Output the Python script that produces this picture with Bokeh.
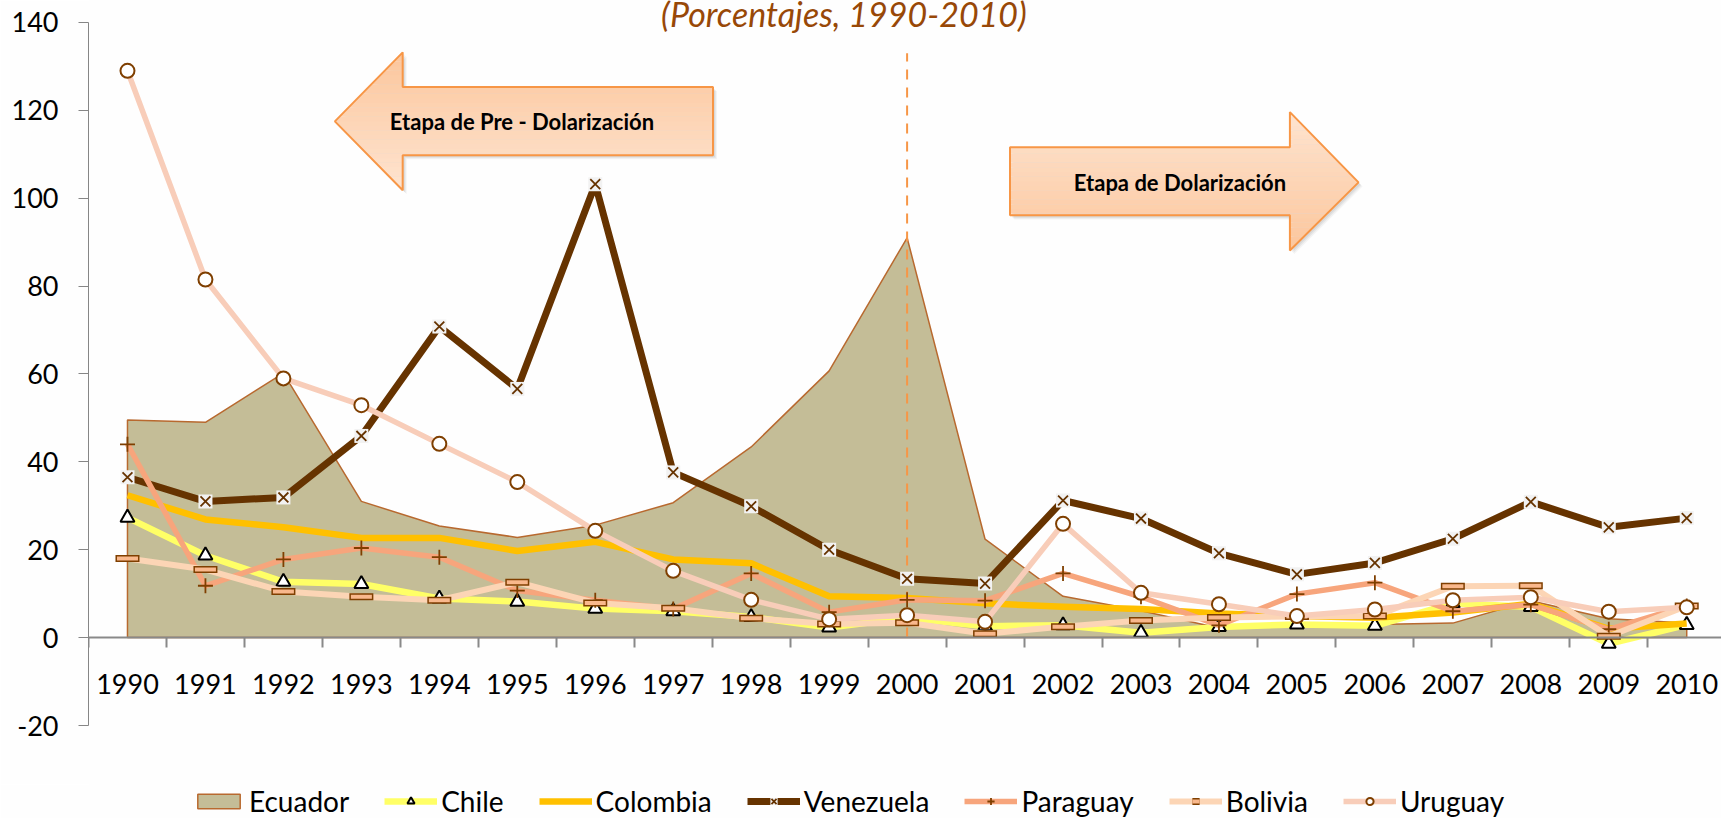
from bokeh.plotting import figure
from bokeh.layouts import column
from bokeh.models import (Range1d, LinearAxis, FixedTicker, Label, Legend, LegendItem)
from bokeh.embed import file_html
from bokeh.resources import INLINE

# ---------------- data ----------------
years = [str(y) for y in range(1990, 2011)]
ecuador = [49.5, 49.0, 60.2, 31.0, 25.4, 22.8, 25.6, 30.7, 43.4, 60.7, 91.0,
           22.4, 9.4, 6.1, 2.2, 3.2, 3.0, 3.3, 8.4, 4.3, 3.3]
chile = [27.3, 18.7, 12.7, 12.2, 8.9, 8.2, 6.6, 6.0, 4.7, 2.3, 4.5,
         2.6, 2.8, 1.1, 2.4, 3.0, 2.7, 7.8, 7.0, -1.4, 2.9]
colombia = [32.4, 26.9, 25.1, 22.7, 22.7, 19.7, 21.8, 17.8, 16.9, 9.4, 9.0,
            7.8, 7.0, 6.5, 5.5, 4.9, 4.5, 5.7, 7.7, 2.0, 3.2]
venezuela = [36.5, 31.0, 31.9, 45.9, 70.8, 56.6, 103.2, 37.6, 29.9, 20.0, 13.4,
             12.3, 31.2, 27.1, 19.2, 14.4, 17.0, 22.5, 30.9, 25.1, 27.2]
paraguay = [44.0, 11.8, 17.8, 20.4, 18.3, 10.7, 8.5, 6.5, 14.6, 5.8, 8.6,
            8.4, 14.6, 9.3, 2.8, 9.9, 12.5, 6.0, 7.5, 1.9, 7.2]
bolivia = [18.0, 15.5, 10.5, 9.3, 8.5, 12.6, 7.9, 6.7, 4.4, 3.1, 3.4,
           0.9, 2.5, 3.9, 4.6, 4.8, 4.9, 11.7, 11.8, 0.3, 7.2]
uruguay = [129.0, 81.5, 59.0, 52.9, 44.1, 35.4, 24.3, 15.2, 8.6, 4.2, 5.1,
           3.6, 25.9, 10.2, 7.6, 4.9, 6.4, 8.5, 9.2, 5.9, 6.9]
y_ticks = [-20, 0, 20, 40, 60, 80, 100, 120, 140]
title_text = "(Porcentajes, 1990-2010)"
pre_text = "Etapa de Pre - Dolarización"
post_text = "Etapa de Dolarización"
dollar_year = "2000"

xs = list(range(len(years)))
FONT = "Lato"
BG = "#FEFEFE"

# frame reaches the top of the canvas; the axis itself stops at 140
p = figure(width=1721, height=784, output_backend="svg", toolbar_location=None,
           x_range=Range1d(-0.5, 20.446), y_range=Range1d(-20, 145.0),
           x_axis_location=None, y_axis_location="left",
           min_border_left=88, min_border_right=0, min_border_top=0, min_border_bottom=59,
           background_fill_color=BG, border_fill_color=BG)
p.outline_line_color = None
p.grid.visible = False

# y axis
yax = p.yaxis[0]
yax.bounds = (y_ticks[0], y_ticks[-1])
yax.ticker = FixedTicker(ticks=y_ticks)
yax.major_label_overrides = {v: ("-%d" % -v if v < 0 else str(v)) for v in y_ticks}
yax.axis_line_color = "#868686"
yax.axis_line_width = 1
yax.major_tick_line_color = "#868686"
yax.major_tick_out = 10
yax.major_tick_in = 0
yax.minor_tick_line_color = None
yax.major_label_text_font = FONT
yax.major_label_text_font_size = "27px"
yax.major_label_text_color = "#000000"
yax.major_label_standoff = 20

# x axis at y = 0 : boundary ticks
bounds = [i - 0.5 for i in range(len(years) + 1)]
xax_t = LinearAxis(fixed_location=0, ticker=FixedTicker(ticks=bounds))
xax_t.major_label_overrides = {b: "" for b in bounds}
xax_t.axis_line_color = "#898989"
xax_t.axis_line_width = 2
xax_t.major_tick_line_color = "#898989"
xax_t.major_tick_line_width = 2
xax_t.major_tick_out = 10
xax_t.major_tick_in = 0
xax_t.minor_tick_line_color = None
xax_t.major_label_standoff = 0
p.add_layout(xax_t, "below")

# x axis labels at centers
xax_l = LinearAxis(fixed_location=0, ticker=FixedTicker(ticks=xs))
xax_l.major_label_overrides = {i: y for i, y in enumerate(years)}
xax_l.axis_line_color = None
xax_l.major_tick_line_color = None
xax_l.minor_tick_line_color = None
xax_l.major_tick_out = 0
xax_l.major_tick_in = 0
xax_l.major_label_standoff = 36
xax_l.major_label_text_font = FONT
xax_l.major_label_text_font_size = "27px"
xax_l.major_label_text_color = "#000000"
p.add_layout(xax_l, "below")

# ---------------- Ecuador area ----------------
area_x = [xs[0]] + xs + [xs[-1]]
area_y = [0] + ecuador + [0]
ECU = dict(fill_color="#C4BD97", line_color="#B8692F", line_width=1.5)
p.patch(area_x, area_y, **ECU)

# ---------------- arrows ----------------
def clip(poly, keep, inter):
    out = []
    n = len(poly)
    for i in range(n):
        a, b = poly[i - 1], poly[i]
        ia, ib = keep(a), keep(b)
        if ib:
            if not ia:
                out.append(inter(a, b))
            out.append(b)
        elif ia:
            out.append(inter(a, b))
    return out

def band(poly, lo, hi):
    def ix(a, b, yv):
        f = (yv - a[1]) / (b[1] - a[1])
        return (a[0] + f * (b[0] - a[0]), yv)
    q_ = clip(poly, lambda p_: p_[1] >= lo, lambda a, b: ix(a, b, lo))
    if not q_:
        return q_
    return clip(q_, lambda p_: p_[1] <= hi, lambda a, b: ix(a, b, hi))

def hexmix(c1, c2, f):
    a = [int(c1[i:i + 2], 16) for i in (1, 3, 5)]
    b = [int(c2[i:i + 2], 16) for i in (1, 3, 5)]
    return "#%02x%02x%02x" % tuple(round(a[k] + (b[k] - a[k]) * f) for k in range(3))

def draw_arrow(poly, c_top, c_bot):
    px = [v[0] for v in poly]
    py = [v[1] for v in poly]
    for k, a in enumerate([0.06, 0.05, 0.04]):
        d = k + 2
        p.patch([v + 0.013 * d for v in px], [v - 0.23 * d for v in py], fill_color="#000000",
                fill_alpha=a, line_color=None)
    lo, hi = min(py), max(py)
    nb = 30
    for k in range(nb):
        y0 = lo + (hi - lo) * k / nb
        y1 = lo + (hi - lo) * (k + 1) / nb + 0.05
        sub = band(poly, y0, y1)
        if len(sub) >= 3:
            f = 1 - (k + 0.5) / nb
            p.patch([v[0] for v in sub], [v[1] for v in sub],
                    fill_color=hexmix(c_top, c_bot, f), line_color=None)
    p.patch(px, py, fill_color=None, line_color="#F79646", line_width=2)

left_arrow = [(2.66, 117.5), (3.53, 133.2), (3.53, 125.3), (7.51, 125.3),
              (7.51, 109.8), (3.53, 109.8), (3.53, 101.8)]
right_arrow = [(11.32, 111.6), (14.91, 111.6), (14.91, 119.6), (15.79, 103.6),
               (14.91, 88.1), (14.91, 96.1), (11.32, 96.1)]
draw_arrow(left_arrow, "#FCC69C", "#FEE4D0")
draw_arrow(right_arrow, "#FEE4D0", "#FCC69C")

p.add_layout(Label(x=5.06, y=117.5, text=pre_text, text_align="center", text_baseline="middle",
                   text_font=FONT, text_font_style="bold", text_font_size="22px",
                   text_color="#000000"))
p.add_layout(Label(x=13.5, y=103.6, text=post_text, text_align="center", text_baseline="middle",
                   text_font=FONT, text_font_style="bold", text_font_size="22px",
                   text_color="#000000"))

# dashed separator at 2000
xd = years.index(dollar_year)
p.segment(x0=[xd], y0=[0], x1=[xd], y1=[133], line_color="#F79646", line_width=2,
          line_dash="10 8")

# ---------------- series styles ----------------
BR = "#7F3F00"
CHI_L = dict(line_color="#FFFF66", line_width=6.5, line_join="round")
CHI_M = dict(marker="triangle", size=14, fill_color="white", line_color="#000000", line_width=2)
COL_L = dict(line_color="#FFC000", line_width=6.5, line_join="round")
VEN_L = dict(line_color="#663300", line_width=7, line_join="round")
VEN_B = dict(marker="square", size=14, fill_color="#F2F2F2", line_color=None)
VEN_M = dict(marker="x", size=14, line_color="#663300", line_width=1.8)
PAR_L = dict(line_color="#F7A57C", line_width=5.5, line_join="round")
PAR_M = dict(marker="cross", size=15, line_color=BR, line_width=1.8)
BOL_L = dict(line_color="#FCD5B5", line_width=6, line_join="round")
BOL_O = dict(marker="dash", size=24, line_color=BR, line_width=7)
BOL_I = dict(marker="dash", size=21, line_color="#F9B88C", line_width=4)
URU_L = dict(line_color="#F8CDB9", line_width=5.5, line_join="round")
URU_M = dict(marker="circle", size=14, fill_color="white", line_color=BR, line_width=2)

p.line(xs, chile, **CHI_L)
p.scatter(xs, chile, **CHI_M)
p.line(xs, colombia, **COL_L)
p.line(xs, venezuela, **VEN_L)
p.scatter(xs, venezuela, **VEN_B)
p.scatter(xs, venezuela, **VEN_M)
p.line(xs, paraguay, **PAR_L)
p.scatter(xs, paraguay, **PAR_M)
p.line(xs, bolivia, **BOL_L)
p.scatter(xs, bolivia, **BOL_O)
p.scatter(xs, bolivia, **BOL_I)
p.line(xs, uruguay, **URU_L)
p.scatter(xs, uruguay, **URU_M)

# ---------------- title (cut at the top edge) ----------------
p.add_layout(Label(x=9.19, y=142.0, text=title_text, text_align="center", text_baseline="alphabetic",
                   text_font=FONT, text_font_style="italic", text_font_size="34px",
                   text_color="#984807"))

# ---------------- legend strip ----------------
q = figure(width=1721, height=34, output_backend="svg", toolbar_location=None,
           x_range=Range1d(0, 1), y_range=Range1d(0, 1),
           x_axis_location=None, y_axis_location=None,
           min_border_left=88, min_border_right=0, min_border_top=0, min_border_bottom=0,
           background_fill_color=BG, border_fill_color=BG)
q.outline_line_color = None
q.grid.visible = False
ox, oy = [50, 51, 51], [50, 50, 51]   # outside the visible range: legend samples only
lr_ecu = [q.patch(ox, oy, **ECU)]
lr_chi = [q.line(ox, oy, **CHI_L), q.scatter(ox, oy, **CHI_M)]
lr_col = [q.line(ox, oy, **COL_L)]
lr_ven = [q.line(ox, oy, **VEN_L), q.scatter(ox, oy, **VEN_B), q.scatter(ox, oy, **VEN_M)]
lr_par = [q.line(ox, oy, **PAR_L), q.scatter(ox, oy, **PAR_M)]
lr_bol = [q.line(ox, oy, **BOL_L), q.scatter(ox, oy, **BOL_O), q.scatter(ox, oy, **BOL_I)]
lr_uru = [q.line(ox, oy, **URU_L), q.scatter(ox, oy, **URU_M)]

legend = Legend(items=[
    LegendItem(label="Ecuador", renderers=lr_ecu),
    LegendItem(label="Chile", renderers=lr_chi),
    LegendItem(label="Colombia", renderers=lr_col),
    LegendItem(label="Venezuela", renderers=lr_ven),
    LegendItem(label="Paraguay", renderers=lr_par),
    LegendItem(label="Bolivia", renderers=lr_bol),
    LegendItem(label="Uruguay", renderers=lr_uru),
], orientation="horizontal", location="left")
legend.glyph_width = 53
legend.glyph_height = 18
legend.label_standoff = 4
legend.spacing = 35
legend.padding = 0
legend.margin = 104
legend.border_line_color = None
legend.background_fill_alpha = 0
legend.label_text_font = FONT
legend.label_text_font_size = "28px"
legend.label_text_color = "#000000"
q.add_layout(legend)

layout = column(p, q, spacing=0)
open("out.html", "w").write(file_html(layout, INLINE))
